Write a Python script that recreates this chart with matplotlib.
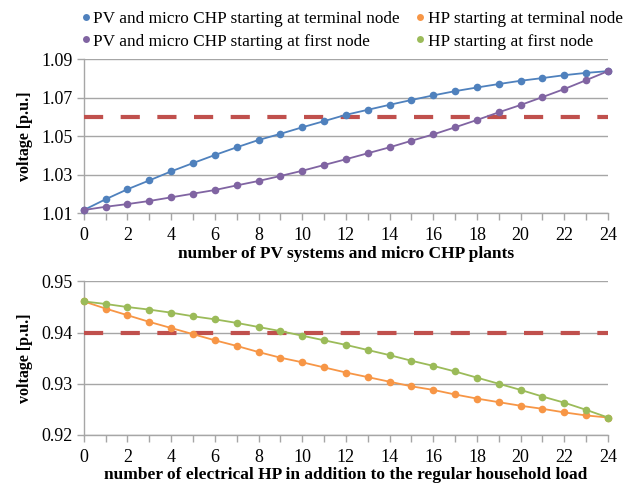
import matplotlib.pyplot as plt
import numpy as np

n_units = np.arange(25)

# top panel: voltage at node with PV and micro CHP
pv_terminal = [1.0117, 1.0173, 1.0225, 1.0271, 1.0318, 1.0361, 1.0403, 1.0443, 1.0481,
               1.0513, 1.0547, 1.0579, 1.0612, 1.0638, 1.0664, 1.0689, 1.0713, 1.0735,
               1.0754, 1.0772, 1.0789, 1.0803, 1.0818, 1.0830, 1.0839]
pv_first = [1.0117, 1.0134, 1.0148, 1.0164, 1.0183, 1.0202, 1.0221, 1.0245, 1.0268,
            1.0294, 1.0321, 1.0351, 1.0381, 1.0412, 1.0443, 1.0477, 1.0510, 1.0547,
            1.0585, 1.0625, 1.0663, 1.0704, 1.0746, 1.0792, 1.0839]
upper_limit = 1.06

# bottom panel: voltage with heat pumps
hp_terminal = [0.9461, 0.9447, 0.9434, 0.9421, 0.9409, 0.9397, 0.9385, 0.9374, 0.9362,
               0.9351, 0.9342, 0.9332, 0.9322, 0.9313, 0.9304, 0.9295, 0.9288, 0.9279,
               0.9271, 0.9264, 0.9257, 0.9251, 0.9244, 0.9238, 0.9234]
hp_first = [0.9461, 0.9456, 0.9450, 0.9445, 0.9439, 0.9432, 0.9426, 0.9419, 0.9411,
            0.9403, 0.9394, 0.9385, 0.9376, 0.9366, 0.9356, 0.9345, 0.9335, 0.9324,
            0.9312, 0.9300, 0.9288, 0.9275, 0.9263, 0.9249, 0.9234]
lower_limit = 0.94

top_ticks = [1.01, 1.03, 1.05, 1.07, 1.09]
bottom_ticks = [0.92, 0.93, 0.94, 0.95]
x_labels = list(range(0, 25, 2))

BLUE = "#4f81bd"
PURPLE = "#8064a2"
ORANGE = "#f79646"
GREEN = "#9bbb59"
RED = "#c0504d"
GRID = "#a6a6a6"

plt.rcParams.update({
    "font.family": ["Liberation Serif", "DejaVu Serif"],
    "font.size": 11,
})

fig = plt.figure(figsize=(6.3, 4.87), dpi=100)
ax_top = fig.add_axes([0.133, 0.562, 0.832, 0.316])
ax_bot = fig.add_axes([0.133, 0.107, 0.832, 0.315])


def style_axis(ax, yticks, xlabel):
    ax.set_xlim(0, 24)
    ax.set_ylim(yticks[0], yticks[-1])
    ax.set_yticks(yticks)
    ax.set_yticklabels([f"{t:.2f}" for t in yticks])
    ax.set_xticks(n_units, minor=True)
    ax.set_xticks(x_labels)
    ax.grid(True, axis="y", color=GRID, linewidth=1.0)
    ax.set_axisbelow(True)
    for side in ("top", "right"):
        ax.spines[side].set_visible(False)
    for side in ("left", "bottom"):
        ax.spines[side].set_color(GRID)
        ax.spines[side].set_linewidth(1.0)
    ax.tick_params(axis="both", which="both", color=GRID, length=5, width=1.0,
                   direction="out", labelsize=13, pad=5)
    ax.tick_params(axis="y", length=5, pad=3)
    ax.set_ylabel("voltage [p.u.]", fontweight="bold", fontsize=11.5, labelpad=6)
    ax.set_xlabel(xlabel, fontweight="bold", fontsize=12.5, labelpad=1)


def draw_series(ax, y, color, label):
    return ax.plot(n_units, y, color=color, linewidth=1.3, marker="o", markersize=5.5,
                   markeredgewidth=0, label=label, zorder=4)[0]


style_axis(ax_top, top_ticks, "number of PV systems and micro CHP plants")
style_axis(ax_bot, bottom_ticks, "number of electrical HP in addition to the regular household load")

ax_top.plot([n_units[0], n_units[-1]], [upper_limit, upper_limit], color=RED,
            linewidth=3, dashes=(4.6, 4.2), zorder=3)
ax_bot.plot([n_units[0], n_units[-1]], [lower_limit, lower_limit], color=RED,
            linewidth=3, dashes=(4.6, 4.2), zorder=3)

h_blue = draw_series(ax_top, pv_terminal, BLUE, "PV and micro CHP starting at terminal node")
h_purple = draw_series(ax_top, pv_first, PURPLE, "PV and micro CHP starting at first node")
h_orange = draw_series(ax_bot, hp_terminal, ORANGE, "HP starting at terminal node")
h_green = draw_series(ax_bot, hp_first, GREEN, "HP starting at first node")

for ax in (ax_top, ax_bot):
    for line in ax.lines:
        line.set_clip_on(False)

legend_handles = [
    plt.Line2D([0], [0], marker="o", color="none", markerfacecolor=c, markeredgewidth=0, markersize=5)
    for c in (BLUE, PURPLE, ORANGE, GREEN)
]
legend_labels = [h_blue.get_label(), h_purple.get_label(), h_orange.get_label(), h_green.get_label()]
fig.legend(legend_handles, legend_labels, ncol=2, loc="upper left", bbox_to_anchor=(0.11, 1.0),
           frameon=False, fontsize=12.4, handlelength=0.6, handletextpad=0.15,
           columnspacing=0.85, labelspacing=0.36, borderaxespad=0.25)

fig.savefig("out.png", dpi=100)
